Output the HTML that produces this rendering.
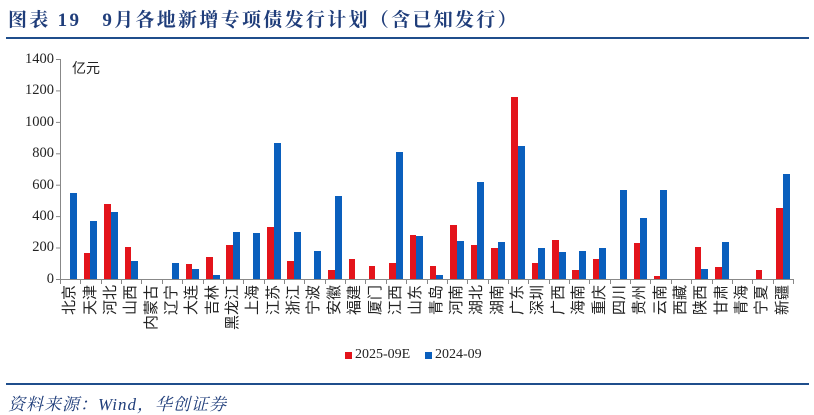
<!DOCTYPE html>
<html><head><meta charset="utf-8"><style>
body{margin:0;width:814px;height:415px;background:#fff;position:relative;overflow:hidden;font-family:"Liberation Serif","Noto Serif CJK SC",serif}
.t{position:absolute;left:8px;top:5px;font-size:19px;font-weight:bold;color:#1f3d7a;font-family:"Liberation Serif","Noto Serif CJK SC",serif;white-space:nowrap;letter-spacing:2.3px}
.ln{position:absolute;left:6px;width:803px;height:2px;background:#1f4e8c}
.yl{position:absolute;right:760px;font-size:14.5px;color:#222;line-height:16px}
.plot{position:absolute;left:60px;top:59px;width:733px;height:220px;display:flex;align-items:flex-end}
.c{flex:1;position:relative;height:100%}
.r,.b{position:absolute;bottom:0}
.r{left:3.5px;width:6.5px;background:#e3141b}
.b{left:10px;width:7px;background:#0a5fbd}
.labs{position:absolute;left:60px;top:285px;width:733px;display:flex;align-items:flex-start}
.labs div{flex:1;display:flex;justify-content:center}
.labs span{writing-mode:vertical-rl;text-orientation:sideways;transform:rotate(180deg);font-family:"Liberation Sans","Noto Sans CJK SC",sans-serif;font-size:15px;line-height:16px;color:#222}
</style></head><body>
<div class="t">图表 19&nbsp;&nbsp; 9月各地新增专项债发行计划（含已知发行）</div>
<div class="ln" style="top:37px"></div>
<div class="ln" style="top:383px"></div>
<div style="position:absolute;left:8px;top:390px;font-size:17px;font-style:italic;letter-spacing:1px;color:#1f3d7a;font-family:'Liberation Serif','Noto Serif CJK SC',serif">资料来源：Wind，华创证券</div>
<div class="yl" style="top:51px">1400</div>
<div class="yl" style="top:82px">1200</div>
<div class="yl" style="top:114px">1000</div>
<div class="yl" style="top:145px">800</div>
<div class="yl" style="top:177px">600</div>
<div class="yl" style="top:208px">400</div>
<div class="yl" style="top:239px">200</div>
<div class="yl" style="top:271px">0</div>
<div style="position:absolute;left:72px;top:58px;font-size:14px;color:#222;font-family:'Liberation Sans','Noto Sans CJK SC',sans-serif">亿元</div>
<svg style="position:absolute;left:0;top:0" width="814" height="415">
<g stroke="#888" stroke-width="1">
<line x1="60.5" y1="59" x2="60.5" y2="280"/>
<line x1="56" y1="279.5" x2="794" y2="279.5"/>
<line x1="56" y1="59.5" x2="60" y2="59.5"/><line x1="56" y1="90.9" x2="60" y2="90.9"/><line x1="56" y1="122.4" x2="60" y2="122.4"/><line x1="56" y1="153.8" x2="60" y2="153.8"/><line x1="56" y1="185.2" x2="60" y2="185.2"/><line x1="56" y1="216.6" x2="60" y2="216.6"/><line x1="56" y1="248" x2="60" y2="248"/>
</g>
<g id="tk" stroke="#888"></g>
</svg>
<div class="plot">
<div class="c"><div class="b" style="height:85.6px"></div></div>
<div class="c"><div class="r" style="height:25.9px"></div><div class="b" style="height:58.1px"></div></div>
<div class="c"><div class="r" style="height:75px"></div><div class="b" style="height:67.5px"></div></div>
<div class="c"><div class="r" style="height:32.2px"></div><div class="b" style="height:18px"></div></div>
<div class="c"></div>
<div class="c"><div class="b" style="height:16.5px"></div></div>
<div class="c"><div class="r" style="height:15.2px"></div><div class="b" style="height:10.2px"></div></div>
<div class="c"><div class="r" style="height:22px"></div><div class="b" style="height:3.9px"></div></div>
<div class="c"><div class="r" style="height:33.8px"></div><div class="b" style="height:47.1px"></div></div>
<div class="c"><div class="b" style="height:46px"></div></div>
<div class="c"><div class="r" style="height:51.8px"></div><div class="b" style="height:136.3px"></div></div>
<div class="c"><div class="r" style="height:17.6px"></div><div class="b" style="height:46.6px"></div></div>
<div class="c"><div class="b" style="height:28.3px"></div></div>
<div class="c"><div class="r" style="height:8.6px"></div><div class="b" style="height:83.2px"></div></div>
<div class="c"><div class="r" style="height:20.1px"></div></div>
<div class="c"><div class="r" style="height:13.3px"></div></div>
<div class="c"><div class="r" style="height:15.7px"></div><div class="b" style="height:127.2px"></div></div>
<div class="c"><div class="r" style="height:44.3px"></div><div class="b" style="height:42.7px"></div></div>
<div class="c"><div class="r" style="height:13.3px"></div><div class="b" style="height:3.9px"></div></div>
<div class="c"><div class="r" style="height:54.2px"></div><div class="b" style="height:38.5px"></div></div>
<div class="c"><div class="r" style="height:34.5px"></div><div class="b" style="height:96.6px"></div></div>
<div class="c"><div class="r" style="height:30.6px"></div><div class="b" style="height:36.9px"></div></div>
<div class="c"><div class="r" style="height:182.1px"></div><div class="b" style="height:133.1px"></div></div>
<div class="c"><div class="r" style="height:16.5px"></div><div class="b" style="height:30.6px"></div></div>
<div class="c"><div class="r" style="height:39.3px"></div><div class="b" style="height:27px"></div></div>
<div class="c"><div class="r" style="height:9.1px"></div><div class="b" style="height:27.9px"></div></div>
<div class="c"><div class="r" style="height:20.4px"></div><div class="b" style="height:30.6px"></div></div>
<div class="c"><div class="b" style="height:88.7px"></div></div>
<div class="c"><div class="r" style="height:36.1px"></div><div class="b" style="height:61.2px"></div></div>
<div class="c"><div class="r" style="height:2.8px"></div><div class="b" style="height:88.7px"></div></div>
<div class="c"></div>
<div class="c"><div class="r" style="height:32.2px"></div><div class="b" style="height:10.2px"></div></div>
<div class="c"><div class="r" style="height:11.8px"></div><div class="b" style="height:36.9px"></div></div>
<div class="c"></div>
<div class="c"><div class="r" style="height:8.6px"></div></div>
<div class="c"><div class="r" style="height:71.4px"></div><div class="b" style="height:105.5px"></div></div>
</div>
<div class="labs">
<div><span>北京</span></div><div><span>天津</span></div><div><span>河北</span></div><div><span>山西</span></div><div><span>内蒙古</span></div><div><span>辽宁</span></div><div><span>大连</span></div><div><span>吉林</span></div><div><span>黑龙江</span></div><div><span>上海</span></div><div><span>江苏</span></div><div><span>浙江</span></div><div><span>宁波</span></div><div><span>安徽</span></div><div><span>福建</span></div><div><span>厦门</span></div><div><span>江西</span></div><div><span>山东</span></div><div><span>青岛</span></div><div><span>河南</span></div><div><span>湖北</span></div><div><span>湖南</span></div><div><span>广东</span></div><div><span>深圳</span></div><div><span>广西</span></div><div><span>海南</span></div><div><span>重庆</span></div><div><span>四川</span></div><div><span>贵州</span></div><div><span>云南</span></div><div><span>西藏</span></div><div><span>陕西</span></div><div><span>甘肃</span></div><div><span>青海</span></div><div><span>宁夏</span></div><div><span>新疆</span></div>
</div>
<div style="position:absolute;left:345px;top:352px;width:7px;height:7px;background:#e3141b"></div>
<div style="position:absolute;left:355px;top:347px;font-size:14px;color:#222">2025-09E</div>
<div style="position:absolute;left:425px;top:352px;width:7px;height:7px;background:#0a5fbd"></div>
<div style="position:absolute;left:435px;top:347px;font-size:14px;color:#222">2024-09</div>
<script>
var g=document.getElementById('tk'),s='';
for(var i=0;i<=36;i++){var x=Math.round(60+i*733/36)+0.5;s+='<line x1="'+x+'" y1="279" x2="'+x+'" y2="284"/>';}
g.innerHTML=s;
</script>
</body></html>
